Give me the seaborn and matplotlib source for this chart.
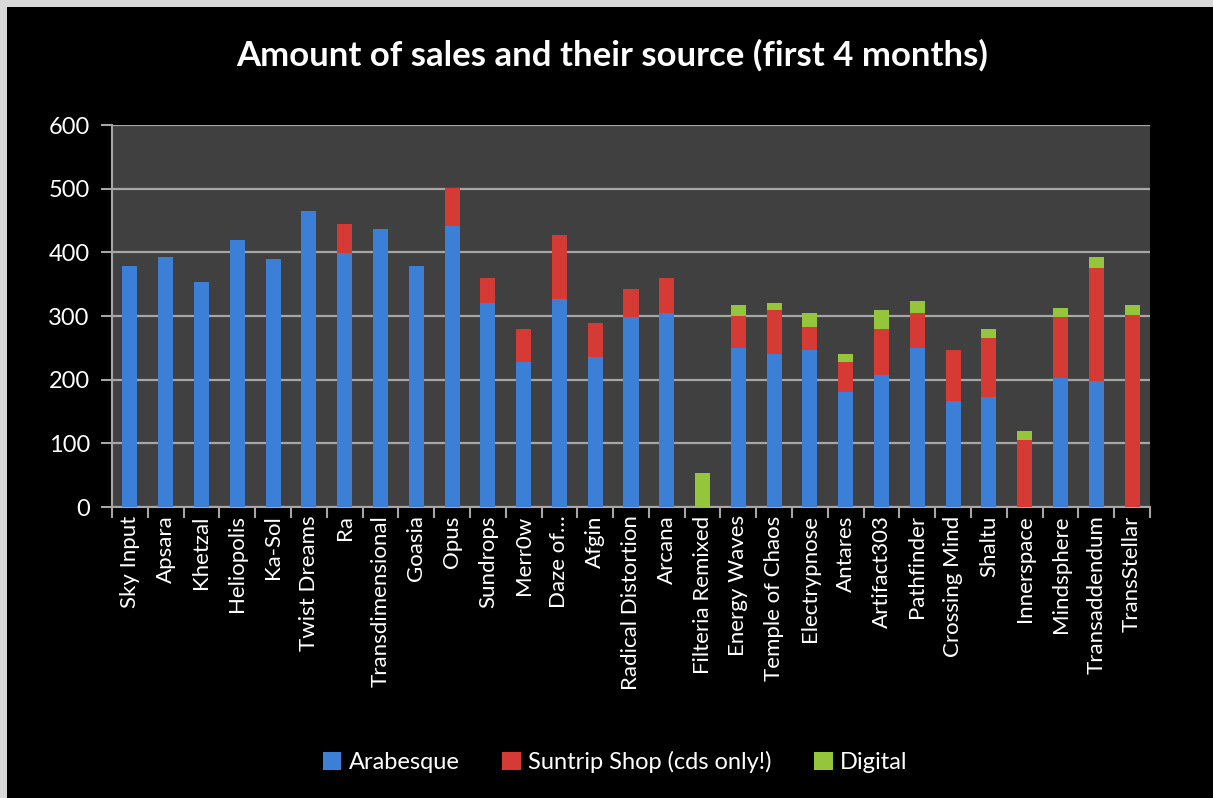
import matplotlib
matplotlib.use("Agg")
import matplotlib.pyplot as plt
import seaborn as sns
import pandas as pd
import numpy as np
from matplotlib.patches import Rectangle

albums = ["Sky Input", "Apsara", "Khetzal", "Heliopolis", "Ka-Sol", "Twist Dreams", "Ra",
          "Transdimensional", "Goasia", "Opus", "Sundrops", "Merr0w", "Daze of…", "Afgin",
          "Radical Distortion", "Arcana", "Filteria Remixed", "Energy Waves", "Temple of Chaos",
          "Electrypnose", "Antares", "Artifact303", "Pathfinder", "Crossing Mind", "Shaltu",
          "Innerspace", "Mindsphere", "Transaddendum", "TransStellar"]
arabesque = [378, 392, 353, 420, 390, 465, 399, 436, 378, 442, 321, 228, 326, 235,
             298, 304, 0, 250, 241, 246, 180, 207, 249, 166, 172, 0, 203, 198, 0]
suntrip = [0, 0, 0, 0, 0, 0, 46, 0, 0, 59, 38, 51, 102, 54,
           45, 55, 0, 50, 68, 36, 47, 72, 55, 80, 94, 105, 96, 178, 301]
digital = [0, 0, 0, 0, 0, 0, 0, 0, 0, 0, 0, 0, 0, 0,
           0, 0, 54, 18, 12, 22, 13, 31, 20, 0, 14, 15, 14, 17, 16]
series_names = ["Arabesque", "Suntrip Shop (cds only!)", "Digital"]
colors = ["#3b7fd6", "#d63a35", "#94c53a"]

df = pd.DataFrame({"album": albums, "a": arabesque, "s": suntrip, "d": digital})
df["ab"] = df["a"]
df["as"] = df["a"] + df["s"]
df["asd"] = df["a"] + df["s"] + df["d"]

W, H = 1213, 798
fig = plt.figure(figsize=(W / 100, H / 100), dpi=100)
fig.patch.set_facecolor("#d9d9d9")
fig.patches.append(Rectangle((7 / W, 0), 1 - 7 / W, 1 - 7 / H, transform=fig.transFigure,
                             facecolor="black", edgecolor="none", zorder=-10))

plt.rcParams["font.family"] = ["Lato", "DejaVu Sans"]

ax = fig.add_axes([112 / W, 1 - 507 / H, (1150 - 112) / W, (507 - 125) / H])
ax.set_zorder(5)
ax.set_facecolor("#404040")

for col, c, name in zip(["asd", "as", "ab"], colors[::-1], series_names[::-1]):
    sns.barplot(data=df, x="album", y=col, color=c, width=0.42, ax=ax,
                saturation=1, label=name, zorder=3, edgecolor="none")

ax.set_ylim(0, 600)
ax.set_xlim(-0.5, len(albums) - 0.5)
ax.set_yticks(range(0, 601, 100))
ax.yaxis.grid(True, color="#a6a6a6", lw=1.6, zorder=1)
ax.set_axisbelow(True)
ax.set_xlabel("")
ax.set_ylabel("")
if ax.get_legend() is not None:
    ax.get_legend().remove()
for s in ["top", "right"]:
    ax.spines[s].set_visible(False)
for s in ["left", "bottom"]:
    ax.spines[s].set_color("#a6a6a6")
    ax.spines[s].set_linewidth(1.5)

ax.tick_params(axis="y", colors="white", labelsize=17, length=8, width=1.5, color="#a6a6a6", pad=8)
ax.set_xticks(range(len(albums)))
ax.set_xticklabels(albums, rotation=90, color="white", fontsize=16)
ax.tick_params(axis="x", which="major", length=0, pad=6)
ax.set_xticks(np.arange(-0.5, len(albums), 1), minor=True)
ax.tick_params(axis="x", which="minor", length=8, width=1.5, color="#a6a6a6")

fig.text(0.505, 1 - 55 / H, "Amount of sales and their source (first 4 months)",
         color="white", fontsize=25, fontweight="bold", ha="center", va="center")

handles = [Rectangle((0, 0), 1, 1, facecolor=c, edgecolor="none") for c in colors]
leg = fig.legend(handles, series_names, loc="center", bbox_to_anchor=(0.507, 1 - 762 / H),
                 ncol=3, frameon=False, fontsize=17, labelcolor="white",
                 handlelength=0.8, handleheight=0.8, columnspacing=1.8, handletextpad=0.3)

fig.savefig("out.png", dpi=100, facecolor=fig.get_facecolor())
